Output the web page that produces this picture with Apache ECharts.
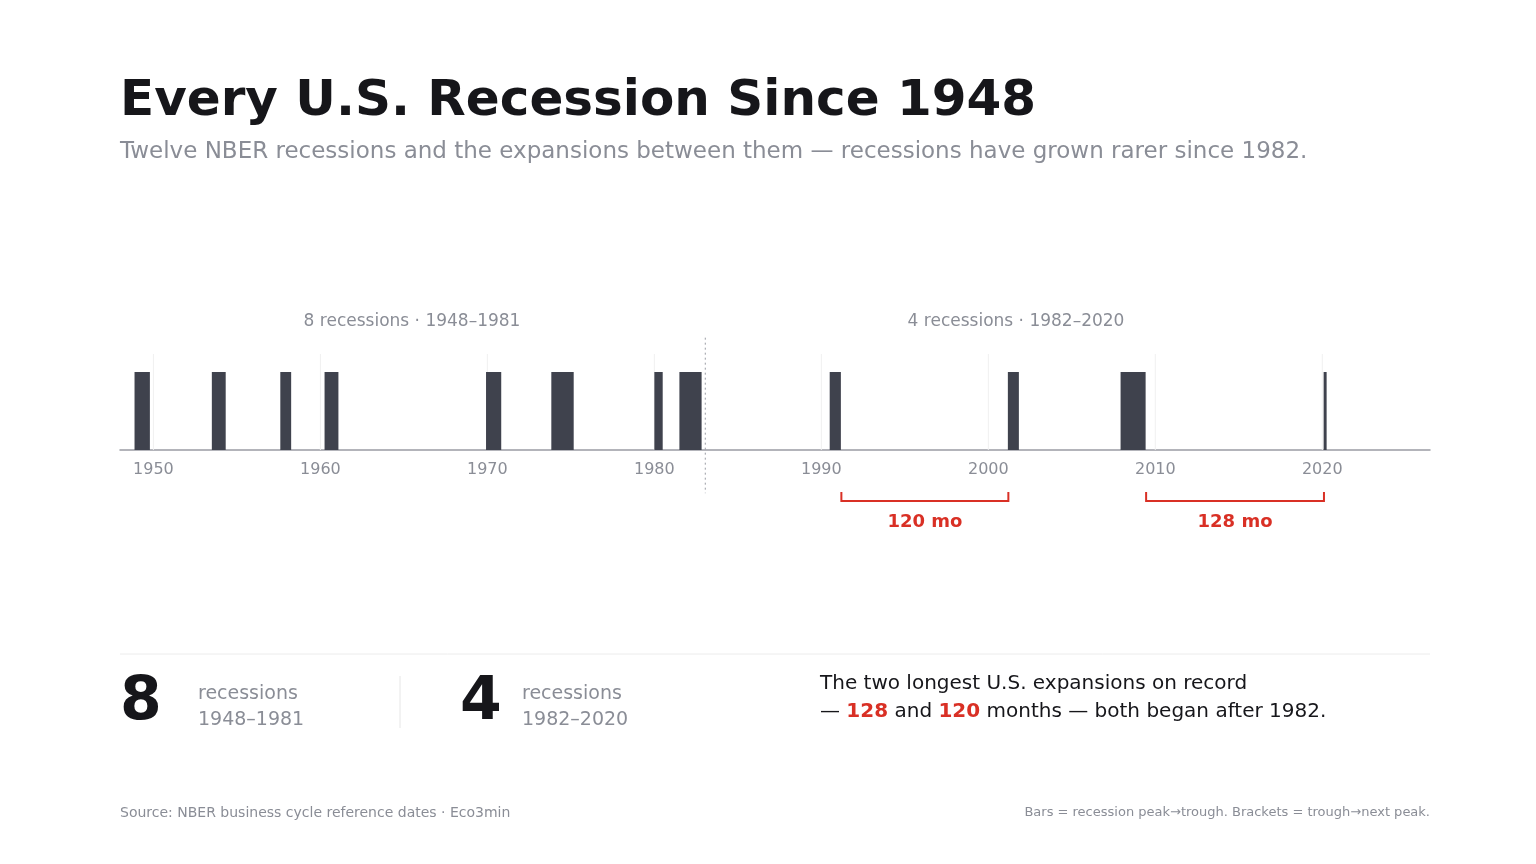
<!DOCTYPE html>
<html><head><meta charset="utf-8">
<script src="https://cdn.jsdelivr.net/npm/echarts@6/dist/echarts.min.js"></script>
<style>html,body{margin:0;padding:0;background:#fff}#c{width:1536px;height:864px}</style>
</head><body><div id="c"></div>
<script>
// Recession peak -> trough (decimal years)
const recStart = [1948.87, 1953.5, 1957.6, 1960.25, 1969.92, 1973.83, 1980.0, 1981.5, 1990.5, 2001.17, 2007.92, 2020.08];
const recEnd   = [1949.79, 1954.33, 1958.25, 1961.08, 1970.83, 1975.17, 1980.5, 1982.83, 1991.17, 2001.83, 2009.42, 2020.25];
// Expansion brackets (trough -> next peak)
const brStart = [1991.2, 2009.45];
const brEnd   = [2001.2, 2020.1];
const brLabel = ['120 mo', '128 mo'];
const tickYears = [1950,1960,1970,1980,1990,2000,2010,2020];
const dividerYear = 1983.05;
const RED = '#d93025', BAR = '#3f424d', GREY = '#8a8d96';
const FF = 'DejaVu Sans';
function T(x,y,text,size,fill,opt){
  return {type:'text',x:x,y:y,style:Object.assign({text:text,fontFamily:FF,fontSize:size,fill:fill,verticalAlign:'middle'},opt||{})};
}

const chart = echarts.init(document.getElementById('c'));
chart.setOption({
  animation:false,
  textStyle:{fontFamily:FF},
  grid:{left:120,right:106,top:354,bottom:414},
  xAxis:{type:'value',min:1948,max:2026.45,
    axisLine:{show:true,lineStyle:{color:'#9a9ca4',width:1.5}},
    axisTick:{show:false},
    splitLine:{show:false},
    axisLabel:{color:GREY,fontSize:16,margin:12,fontFamily:FF,
      customValues:tickYears,formatter:v=>String(v)}},
  yAxis:{type:'value',min:0,max:1,show:false},
  series:[
    {type:'custom',data:tickYears.map(y=>[y]),z:1,
     renderItem:(p,api)=>{
       const a=api.coord([api.value(0),1]), b=api.coord([api.value(0),0]);
       return {type:'line',shape:{x1:a[0],y1:a[1],x2:b[0],y2:b[1]},style:{stroke:'#f0f0f0',lineWidth:1}};
     }},
    {type:'custom',data:recStart.map((s,i)=>[s,recEnd[i]]),z:2,
     renderItem:(p,api)=>{
       const a=api.coord([api.value(0),0.8125]), b=api.coord([api.value(1),0]);
       return {type:'rect',shape:{x:a[0],y:a[1],width:Math.max(b[0]-a[0],3),height:b[1]-a[1]},style:{fill:BAR}};
     }},
    {type:'custom',data:[[dividerYear]],z:3,
     renderItem:(p,api)=>{
       const a=api.coord([api.value(0),1.17]), b=api.coord([api.value(0),-0.45]);
       return {type:'line',shape:{x1:a[0],y1:a[1],x2:b[0],y2:b[1]},style:{stroke:'#9a9ca4',lineWidth:1,lineDash:[2,3]}};
     }},
    {type:'custom',data:brStart.map((s,i)=>[s,brEnd[i],i]),
     renderItem:(p,api)=>{
       const x1=api.coord([api.value(0),0])[0], x2=api.coord([api.value(1),0])[0];
       const y=501;
       return {type:'group',children:[
         {type:'polyline',shape:{points:[[x1,y-9],[x1,y],[x2,y],[x2,y-9]]},style:{stroke:RED,lineWidth:2,fill:null}},
         {type:'text',style:{text:brLabel[api.value(2)],x:(x1+x2)/2,y:y+21,align:'center',verticalAlign:'middle',fill:RED,fontFamily:FF,fontWeight:'bold',fontSize:18}}
       ]};
     }}
  ],
  graphic:[
    T(120,102,'Every U.S. Recession Since 1948',50,'#16161a',{fontWeight:'bold'}),
    T(120,152,'Twelve NBER recessions and the expansions between them — recessions have grown rarer since 1982.',23,GREY),
    T(412,322,'8 recessions · 1948–1981',17,GREY,{align:'center'}),
    T(1016,322,'4 recessions · 1982–2020',17,GREY,{align:'center'}),
    {type:'line',shape:{x1:120,y1:654,x2:1430,y2:654},style:{stroke:'#ececec',lineWidth:1}},
    {type:'line',shape:{x1:400,y1:676,x2:400,y2:728},style:{stroke:'#e6e6e6',lineWidth:1}},
    T(120,703,'8',60,'#16161a',{fontWeight:'bold'}),
    T(198,694,'recessions',19,GREY),
    T(198,720,'1948–1981',19,GREY),
    T(460,703,'4',60,'#16161a',{fontWeight:'bold'}),
    T(522,694,'recessions',19,GREY),
    T(522,720,'1982–2020',19,GREY),
    T(820,684,'The two longest U.S. expansions on record',20,'#16161a'),
    T(820,712,'— {r|128} and {r|120} months — both began after 1982.',20,'#16161a',
      {rich:{r:{fontFamily:FF,fontWeight:'bold',fontSize:20,fill:RED}}}),
    T(120,813,'Source: NBER business cycle reference dates · Eco3min',14,GREY),
    T(1430,813,'Bars = recession peak→trough. Brackets = trough→next peak.',13,GREY,{align:'right'})
  ]
});
</script></body></html>
